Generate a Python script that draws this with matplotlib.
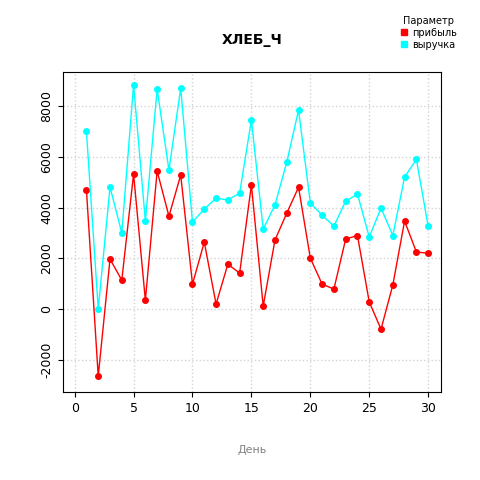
import matplotlib.pyplot as plt
import numpy as np

days = np.arange(1, 31)
revenue = [7000, 0, 4800, 3000, 8830, 3470, 8670, 5480, 8700, 3430,
           3940, 4370, 4300, 4570, 7450, 3150, 4100, 5790, 7840, 4180,
           3700, 3270, 4250, 4530, 2840, 3980, 2900, 5200, 5900, 3270]
profit = [4690, -2640, 1970, 1140, 5320, 350, 5440, 3660, 5280, 985,
          2640, 200, 1770, 1420, 4890, 120, 2720, 3780, 4800, 2010,
          985, 790, 2760, 2900, 280, -790, 950, 3470, 2250, 2200]

fig = plt.figure(figsize=(4.8, 4.8), dpi=100)
ax = fig.add_axes([0.131, 0.183, 0.788, 0.667])
ax.plot(days, profit, color="red", marker="o", ms=4, lw=1, label="прибыль")
ax.plot(days, revenue, color="cyan", marker="o", ms=4, lw=1, label="выручка")
ax.set_xlim(-1, 31.1)
ax.set_ylim(-3270, 9340)
ax.set_xticks([0, 5, 10, 15, 20, 25, 30])
ax.set_yticks([-2000, 0, 2000, 4000, 6000, 8000])
ax.set_yticklabels(["-2000", "0", "2000", "4000", "6000", "8000"], rotation=90, va="center")
ax.tick_params(labelsize=9)
ax.grid(True, color="lightgray", linestyle=":", lw=1)
ax.set_title("ХЛЕБ_Ч", fontweight="bold", fontsize=10, pad=20)
ax.set_xlabel("День", color="gray", fontsize=8, labelpad=22)
leg = fig.legend(handles=[plt.Line2D([], [], ls="", marker="s", color="red", ms=5, label="прибыль"),
                          plt.Line2D([], [], ls="", marker="s", color="cyan", ms=5, label="выручка")],
                 title="Параметр", loc="upper right", bbox_to_anchor=(0.97, 0.985),
                 frameon=False, fontsize=7, title_fontsize=7, handlelength=0.8,
                 handletextpad=0.4, labelspacing=0.2)
fig.savefig("out.png", dpi=100)
